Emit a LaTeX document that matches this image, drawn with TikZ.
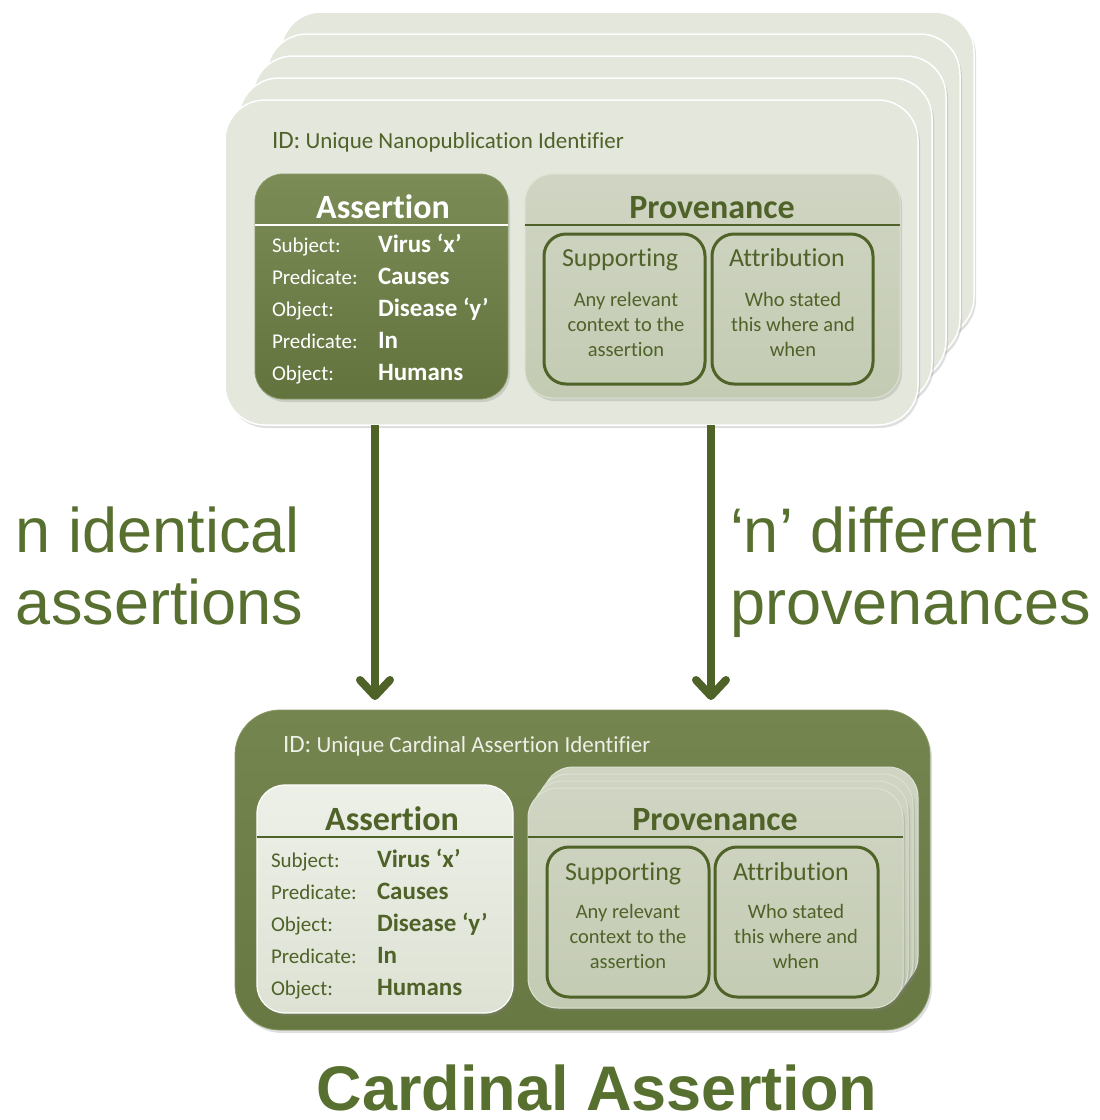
\documentclass[tikz,border=0pt]{standalone}
\usepackage{fontspec}
\setmainfont{Carlito}[Ligatures=NoCommon]
\newfontfamily\arialfont{Liberation Sans}
\usetikzlibrary{arrows.meta,shadows}

\definecolor{olivedk}{HTML}{4F6228}
\definecolor{cardlt}{HTML}{E3E7DC}
\definecolor{labelgr}{HTML}{58702F}
\definecolor{idlight}{HTML}{EEF0E8}
\definecolor{olivetop}{HTML}{7B8C57}
\definecolor{olivebot}{HTML}{62733E}
\definecolor{oliverim}{HTML}{889866}
\definecolor{lighttop}{HTML}{EDF0E8}
\definecolor{lightbot}{HTML}{DDE2D4}
\definecolor{provtop}{HTML}{CFD5C2}
\definecolor{provbot}{HTML}{C4CBB3}
\definecolor{provrim}{HTML}{DCE1D2}
\definecolor{cardtop}{HTML}{75854F}
\definecolor{cardbot}{HTML}{687842}

\tikzset{
  every node/.style={inner sep=0pt, outer sep=0pt},
  box/.style={rectangle, anchor=north west},
  softshadow/.style={drop shadow={opacity=.25, shadow xshift=2pt, shadow yshift=-3pt}},
  card/.style={box, rounded corners=40pt, fill=cardlt, draw=white, line width=1.5pt, softshadow},
  olivepanel/.style={box, rounded corners=28pt, top color=olivetop, bottom color=olivebot, draw=oliverim, line width=.8pt, softshadow},
  lightpanel/.style={box, rounded corners=28pt, top color=lighttop, bottom color=lightbot, draw=white, line width=1.2pt, softshadow},
  provpanel/.style={box, rounded corners=28pt, top color=provtop, bottom color=provbot, draw=provrim, line width=1pt, softshadow},
  subbox/.style={box, rounded corners=22pt, draw=olivedk, line width=3pt},
  lbl/.style={anchor=base west, font=\fontsize{21}{21}\selectfont},
  val/.style={anchor=base west, font=\bfseries\fontsize{25}{25}\selectfont},
  hdr/.style={anchor=base, font=\bfseries\fontsize{34}{34}\selectfont},
  subttl/.style={anchor=base west, text=olivedk, font=\fontsize{26}{26}\selectfont},
  body/.style={anchor=base, text=olivedk, font=\fontsize{20.5}{20.5}\selectfont},
  idtext/.style={anchor=base west, font=\fontsize{23}{23}\selectfont},
  biglabel/.style={anchor=base west, text=labelgr, font=\arialfont\fontsize{63}{63}\selectfont},
  flow/.style={draw=olivedk, line width=8pt,
    -{Straight Barb[length=16pt, width=30pt, line cap=round, line join=round]}},
}

\begin{document}
\begin{tikzpicture}[x=1pt,y=-1pt]
\useasboundingbox (0,0) rectangle (1100,1120);
\fill[white] (0,0) rectangle (1100,1120);

% ---------- stack of nanopublications, back to front ----------
\foreach \k in {4,3,2,1}{
  \node[card, minimum width=693pt, minimum height=325pt] (card\k) at ({225+14*\k},{100-22*\k}) {};
}
\node[card, minimum width=693pt, minimum height=325pt] (nanopub) at (225,100) {};
\node[idtext, text=olivedk] (npid) at (272,148)
  {{\fontsize{25}{25}\selectfont ID:} Unique Nanopublication Identifier};

% assertion panel (top)
\node[olivepanel, minimum width=253pt, minimum height=225pt] (asrtA) at (255,174) {};
\node[hdr, text=white] (asrtAh) at (383,218) {Assertion};
\draw[white, line width=1.5pt] (asrtA.west |- 0,225) -- (asrtA.east |- 0,225);
\foreach \lab/\val [count=\i] in {Subject:/Virus ‘x’, Predicate:/Causes, Object:/Disease ‘y’, Predicate:/In, Object:/Humans}{
  \node[lbl, text=white] (aL\i) at (272,{252+32*(\i-1)}) {\lab};
  \node[val, text=white] (aV\i) at (378,{252+32*(\i-1)}) {\val};
}

% provenance panel (top)
\node[provpanel, minimum width=375pt, minimum height=224pt] (provA) at (525,174) {};
\node[hdr, text=olivedk] (provAh) at (712,218) {Provenance};
\draw[olivedk, line width=2pt] (provA.west |- 0,225) -- (provA.east |- 0,225);
\node[subbox, minimum width=161pt, minimum height=150pt] (supA) at (544,234) {};
\node[subbox, minimum width=161pt, minimum height=150pt] (attA) at (712,234) {};
\node[subttl] (supAt) at (562,266) {Supporting};
\node[subttl] (attAt) at (729,266) {Attribution};
\node[body] (supA1) at (626,306) {Any relevant};
\node[body] (supA2) at (626,331) {context to the};
\node[body] (supA3) at (626,356) {assertion};
\node[body] (attA1) at (793,306) {Who stated};
\node[body] (attA2) at (793,331) {this where and};
\node[body] (attA3) at (793,356) {when};

% ---------- cardinal assertion ----------
\node[box, rounded corners=45pt, top color=cardtop, bottom color=cardbot,
      draw=oliverim, line width=.8pt, softshadow,
      minimum width=695pt, minimum height=320pt] (cardinal) at (235,710) {};
\node[idtext, text=idlight] (caid) at (283,752)
  {{\fontsize{25}{25}\selectfont ID:} Unique Cardinal Assertion Identifier};

% assertion panel (bottom)
\node[lightpanel, minimum width=256pt, minimum height=228pt] (asrtB) at (257,785) {};
\node[hdr, text=olivedk] (asrtBh) at (392,830) {Assertion};
\draw[olivedk, line width=1.5pt] (asrtB.west |- 0,837) -- (asrtB.east |- 0,837);
\foreach \lab/\val [count=\i] in {Subject:/Virus ‘x’, Predicate:/Causes, Object:/Disease ‘y’, Predicate:/In, Object:/Humans}{
  \node[lbl, text=olivedk] (bL\i) at (271,{867+32*(\i-1)}) {\lab};
  \node[val, text=olivedk] (bV\i) at (377,{867+32*(\i-1)}) {\val};
}

% stack of provenance panels (bottom), back to front
\foreach \k in {3,2,1}{
  \node[provpanel, rounded corners=30pt, minimum width=375pt, minimum height=220pt] (provB\k) at ({528+5*\k},{788-7*\k}) {};
}
\node[provpanel, rounded corners=30pt, minimum width=375pt, minimum height=220pt] (provB) at (528,788) {};
\node[hdr, text=olivedk] (provBh) at (715,830) {Provenance};
\draw[olivedk, line width=2pt] (provB.west |- 0,837) -- (provB.east |- 0,837);
\node[subbox, minimum width=162pt, minimum height=150pt] (supB) at (547,847) {};
\node[subbox, minimum width=163pt, minimum height=150pt] (attB) at (715,847) {};
\node[subttl] (supBt) at (565,880) {Supporting};
\node[subttl] (attBt) at (733,880) {Attribution};
\node[body] (supB1) at (628,918) {Any relevant};
\node[body] (supB2) at (628,943) {context to the};
\node[body] (supB3) at (628,968) {assertion};
\node[body] (attB1) at (796,918) {Who stated};
\node[body] (attB2) at (796,943) {this where and};
\node[body] (attB3) at (796,968) {when};

% ---------- connectors and their labels ----------
\coordinate (tipL) at (375,700);
\coordinate (tipR) at (711,700);
\draw[flow] (tipL |- nanopub.south) -- (tipL);
\draw[flow] (tipR |- nanopub.south) -- (tipR);

\node[biglabel] (identA) at (16,552) {n identical};
\node[biglabel] (identB) at (16,624) {assertions};
\node[biglabel] (diffA) at (730,552) {‘n’ different};
\node[biglabel] (diffB) at (730,624) {provenances};

\node[anchor=base, text=labelgr, font=\arialfont\bfseries\fontsize{63}{63}\selectfont] (title) at (597,1110) {Cardinal Assertion};
\end{tikzpicture}
\end{document}
